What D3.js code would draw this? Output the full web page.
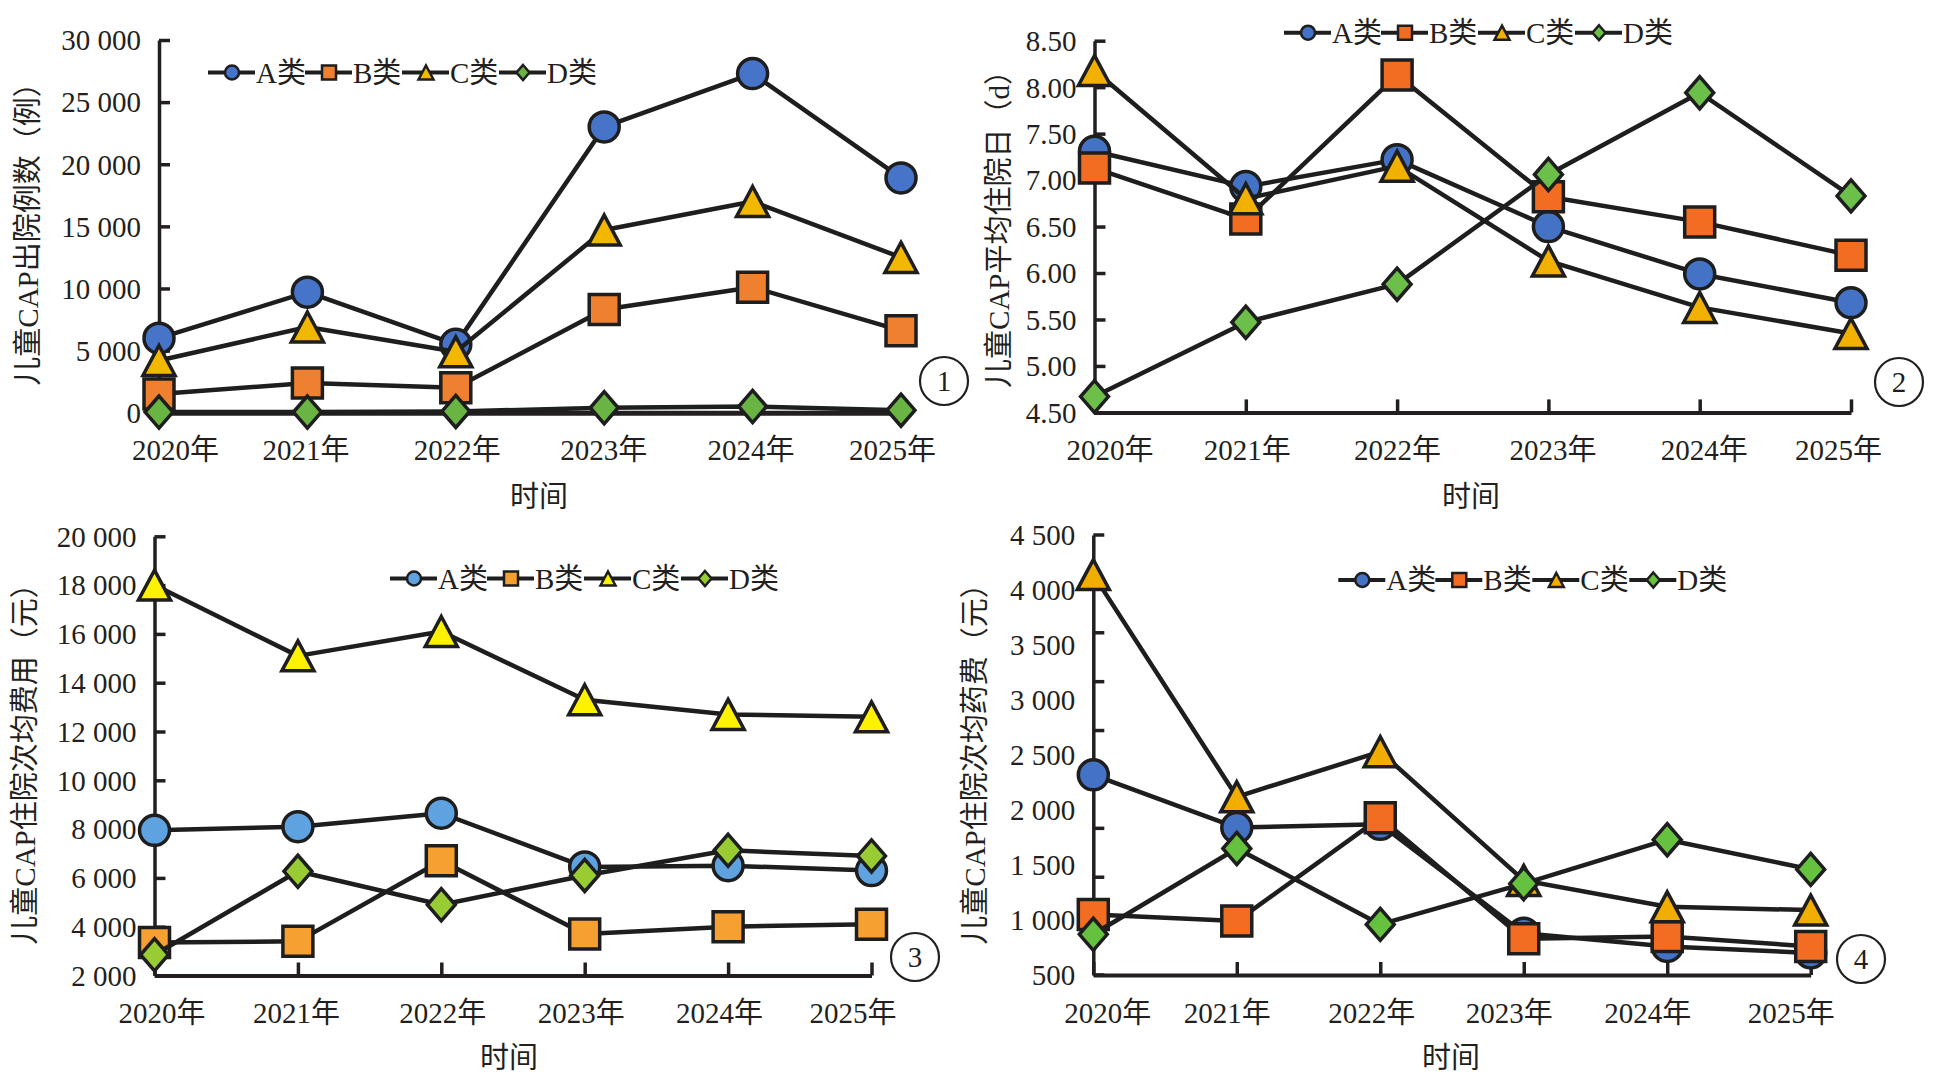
<!DOCTYPE html>
<html>
<head>
<meta charset="utf-8">
<title>儿童CAP 2020-2025</title>
<script src="https://cdn.jsdelivr.net/npm/d3@7"></script>
<style>
body { margin: 0; background: #fff; }
svg text {
  font-family: "Liberation Serif", "Noto Sans CJK SC", serif;
  font-size: 29px;
  fill: #231f20;
}
.axis path, .axis line { stroke: #231f20; stroke-width: 3.5; }
</style>
</head>
<body>
<svg id="chart" width="1937" height="1082"></svg>
<script>
var years = ["2020年", "2021年", "2022年", "2023年", "2024年", "2025年"];
var seriesNames = ["A类", "B类", "C类", "D类"];
var shapes = ["circle", "square", "triangle", "diamond"];

// ① 出院例数
var casesA = [6000, 9700, 5500, 23000, 27300, 18900];
var casesB = [1500, 2400, 2000, 8300, 10100, 6600];
var casesC = [4200, 6900, 4900, 14700, 17000, 12500];
var casesD = [50, 50, 100, 400, 500, 200];
var casesTicks = [0, 5000, 10000, 15000, 20000, 25000, 30000];

// ② 平均住院日
var stayA = [7.31, 6.93, 7.22, 6.50, 5.99, 5.68];
var stayB = [7.13, 6.58, 8.13, 6.82, 6.55, 6.19];
var stayC = [8.18, 6.80, 7.15, 6.13, 5.63, 5.35];
var stayD = [4.67, 5.47, 5.88, 7.06, 7.94, 6.83];
var stayTicks = [4.5, 5, 5.5, 6, 6.5, 7, 7.5, 8, 8.5];

// ③ 次均费用
var costA = [7950, 8100, 8650, 6450, 6500, 6300];
var costB = [3350, 3400, 6700, 3700, 4000, 4100];
var costC = [18000, 15100, 16100, 13300, 12700, 12600];
var costD = [2850, 6270, 4900, 6100, 7130, 6900];
var costTicks = [2000, 4000, 6000, 8000, 10000, 12000, 14000, 16000, 18000, 20000];

// ④ 次均药费
var drugA = [2320, 1840, 1870, 880, 760, 700];
var drugB = [1050, 990, 1930, 830, 850, 760];
var drugC = [4140, 2120, 2530, 1360, 1120, 1090];
var drugD = [870, 1650, 960, 1330, 1730, 1460];
var drugTicks = [500, 1000, 1500, 2000, 2500, 3000, 3500, 4000, 4500];

var spaced = d3.formatLocale({decimal: ".", thousands: " ", grouping: [3], currency: ["", ""]}).format(",");

var panels = [
  { left: 159, right: 901, top: 40, bottom: 412.7, domain: [0, 30000], ticks: casesTicks, fmt: spaced,
    series: [casesA, casesB, casesC, casesD], yLabel: "儿童CAP出院例数（例）", yLabelPos: [28, 227],
    xTitle: [539, 497], labelY: 450, labelDx: [16, -2, 1, -1, -2, -9], legend: [208, 72.5],
    badge: [944, 381, "1"], xAxisWidth: 5,
    colors: ["#4674c8", "#ee8030", "#f2b800", "#6ab444"] },
  { left: 1094.5, right: 1851, top: 40.7, bottom: 412.4, domain: [4.5, 8.5], ticks: stayTicks, fmt: d3.format(".2f"),
    series: [stayA, stayB, stayC, stayD], yLabel: "儿童CAP平均住院日（d）", yLabelPos: [999, 222],
    xTitle: [1471, 497], labelY: 450, labelDx: [15, 1, 0, 4, 4, -13], legend: [1284, 32.7],
    badge: [1899, 382, "2"], xAxisWidth: 4,
    colors: ["#4472c4", "#f26c22", "#f2b000", "#6cc04a"] },
  { left: 154.5, right: 871.5, top: 536.3, bottom: 975.5, domain: [2000, 20000], ticks: costTicks, fmt: spaced,
    series: [costA, costB, costC, costD], yLabel: "儿童CAP住院次均费用（元）", yLabelPos: [25, 757],
    xTitle: [509, 1058], labelY: 1013, labelDx: [7, -2, 1, -4, -9, -19], legend: [390, 578.5],
    badge: [915, 957, "3"], xAxisWidth: 4,
    colors: ["#5fa2e0", "#f5a030", "#fff200", "#99cc33"] },
  { left: 1093.3, right: 1810.7, top: 535, bottom: 975, domain: [500, 4500], ticks: drugTicks, fmt: spaced,
    series: [drugA, drugB, drugC, drugD], yLabel: "儿童CAP住院次均药费（元）", yLabelPos: [975, 757],
    xTitle: [1451, 1058], labelY: 1013, labelDx: [14, -10, -9, -15, -20, -20], legend: [1338.3, 580],
    badge: [1861, 959, "4"], xAxisWidth: 4, tickMarks: 9,
    colors: ["#4472c4", "#f26c22", "#f2ae00", "#66c13f"] }
];

function shapePath(type, s) {
  if (type === "circle") {
    var p = d3.path();
    p.arc(0, 0, s, 0, 2 * Math.PI);
    p.closePath();
    return p.toString();
  }
  if (type === "square") return "M" + (-s) + "," + (-s) + "h" + 2 * s + "v" + 2 * s + "h" + (-2 * s) + "Z";
  if (type === "triangle") {
    var w = s * 1.07, h = s;
    return "M0," + (-h) + "L" + w + "," + h + "L" + (-w) + "," + h + "Z";
  }
  var dx = s * 0.93, dy = s * 1.07;
  return "M0," + (-dy) + "L" + dx + ",0L0," + dy + "L" + (-dx) + ",0Z";
}

var svg = d3.select("#chart");

panels.forEach(function(p) {
  var g = svg.append("g");
  var x = d3.scalePoint().domain(years).range([p.left, p.right]);
  var y = d3.scaleLinear().domain(p.domain).range([p.bottom, p.top]);

  // y axis
  var yAxis = d3.axisLeft(y).tickValues(p.ticks).tickFormat(p.fmt)
      .tickSize(p.tickMarks ? 0 : -11).tickSizeOuter(0).tickPadding(18);
  var ya = g.append("g").attr("class", "axis")
      .attr("transform", "translate(" + p.left + ",0)")
      .call(yAxis)
      .attr("font-size", null).attr("font-family", null);
  ya.selectAll("text").attr("dy", "0.34em");

  if (p.tickMarks) {
    var tm = d3.scaleLinear().domain([0, p.tickMarks]).range([p.bottom, p.top]);
    g.append("g").selectAll("line").data(d3.range(p.tickMarks + 1)).enter().append("line")
      .attr("x1", p.left).attr("x2", p.left + 11)
      .attr("y1", function(d) { return tm(d); }).attr("y2", function(d) { return tm(d); })
      .attr("stroke", "#231f20").attr("stroke-width", 3.5);
  }

  // x axis
  var xAxis = d3.axisBottom(x).tickSize(-13).tickSizeOuter(0).tickPadding(0);
  var xa = g.append("g").attr("class", "axis")
      .attr("transform", "translate(0," + p.bottom + ")")
      .call(xAxis)
      .attr("font-size", null).attr("font-family", null);
  xa.select(".domain").style("stroke-width", p.xAxisWidth);
  xa.selectAll("text")
      .attr("y", p.labelY - p.bottom).attr("dy", "0.35em")
      .attr("x", function(d, i) { return p.labelDx[i]; });

  // titles
  g.append("text").attr("x", p.xTitle[0]).attr("y", p.xTitle[1])
      .attr("text-anchor", "middle").attr("dy", "0.35em").text("时间");
  g.append("text")
      .attr("transform", "translate(" + p.yLabelPos[0] + "," + p.yLabelPos[1] + ") rotate(-90)")
      .attr("text-anchor", "middle").attr("dy", "0.35em").text(p.yLabel);

  // series
  var line = d3.line()
      .x(function(d, i) { return x(years[i]); })
      .y(function(d) { return y(d); });

  p.series.forEach(function(vals, si) {
    g.append("path").datum(vals)
      .attr("d", line)
      .attr("fill", "none").attr("stroke", "#1e1e1e").attr("stroke-width", 4.5)
      .attr("stroke-linejoin", "round");
    g.append("g").selectAll("path").data(vals).enter().append("path")
      .attr("d", shapePath(shapes[si], 15))
      .attr("transform", function(d, i) { return "translate(" + x(years[i]) + "," + y(d) + ")"; })
      .attr("fill", p.colors[si]).attr("stroke", "#1e1e1e").attr("stroke-width", 3.5);
  });

  // legend
  var lg = g.append("g").attr("transform", "translate(" + p.legend[0] + "," + p.legend[1] + ")");
  seriesNames.forEach(function(name, si) {
    var e = lg.append("g").attr("transform", "translate(" + si * 97 + ",0)");
    e.append("line").attr("x1", 0).attr("x2", 47).attr("y1", 0).attr("y2", 0)
      .attr("stroke", "#1e1e1e").attr("stroke-width", 4);
    e.append("path").attr("d", shapePath(shapes[si], 7))
      .attr("transform", "translate(24,0)")
      .attr("fill", p.colors[si]).attr("stroke", "#1e1e1e").attr("stroke-width", 2.5);
    e.append("text").attr("x", 48).attr("dy", "0.35em").text(name);
  });

  // panel number
  g.append("circle").attr("cx", p.badge[0]).attr("cy", p.badge[1]).attr("r", 24)
    .attr("fill", "#fff").attr("stroke", "#231f20").attr("stroke-width", 2.2);
  g.append("text").attr("x", p.badge[0]).attr("y", p.badge[1])
    .attr("text-anchor", "middle").attr("dy", "0.35em").text(p.badge[2]);
});
</script>
</body>
</html>
